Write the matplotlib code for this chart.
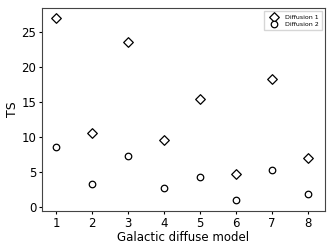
import numpy as np
import matplotlib.pyplot as plt

models = [1, 2, 3, 4, 5, 6, 7, 8]
ts_diffusion1 = [27.0, 10.6, 23.5, 9.5, 15.4, 4.7, 18.3, 7.0]
ts_diffusion2 = [8.6, 3.2, 7.3, 2.7, 4.3, 1.0, 5.3, 1.8]

fig, ax = plt.subplots(figsize=(3.32, 2.49), dpi=100)
ax.scatter(models, ts_diffusion1, marker="D", s=24, facecolors="white",
           edgecolors="black", linewidths=0.9, label="Diffusion 1")
ax.scatter(models, ts_diffusion2, marker="o", s=22, facecolors="white",
           edgecolors="black", linewidths=0.9, label="Diffusion 2")

ax.set_xlim(0.6, 8.48)
ax.set_ylim(-0.6, 28.4)
ax.set_xticks(models)
ax.set_yticks([0, 5, 10, 15, 20, 25])
ax.tick_params(labelsize=8.5, length=2.5, width=0.8, pad=1.5)
ax.set_xlabel("Galactic diffuse model", fontsize=8.5, labelpad=1)
ax.set_ylabel("TS", fontsize=9, labelpad=2)
for sp in ax.spines.values():
    sp.set_color("#444444")
ax.legend(loc="upper right", fontsize=4.5, frameon=True, fancybox=False,
          handletextpad=0.8, borderpad=0.5, labelspacing=0.3)

fig.subplots_adjust(left=42/332, right=325/332, top=1-8/249, bottom=1-211/249)
fig.savefig("out.png", dpi=100)
